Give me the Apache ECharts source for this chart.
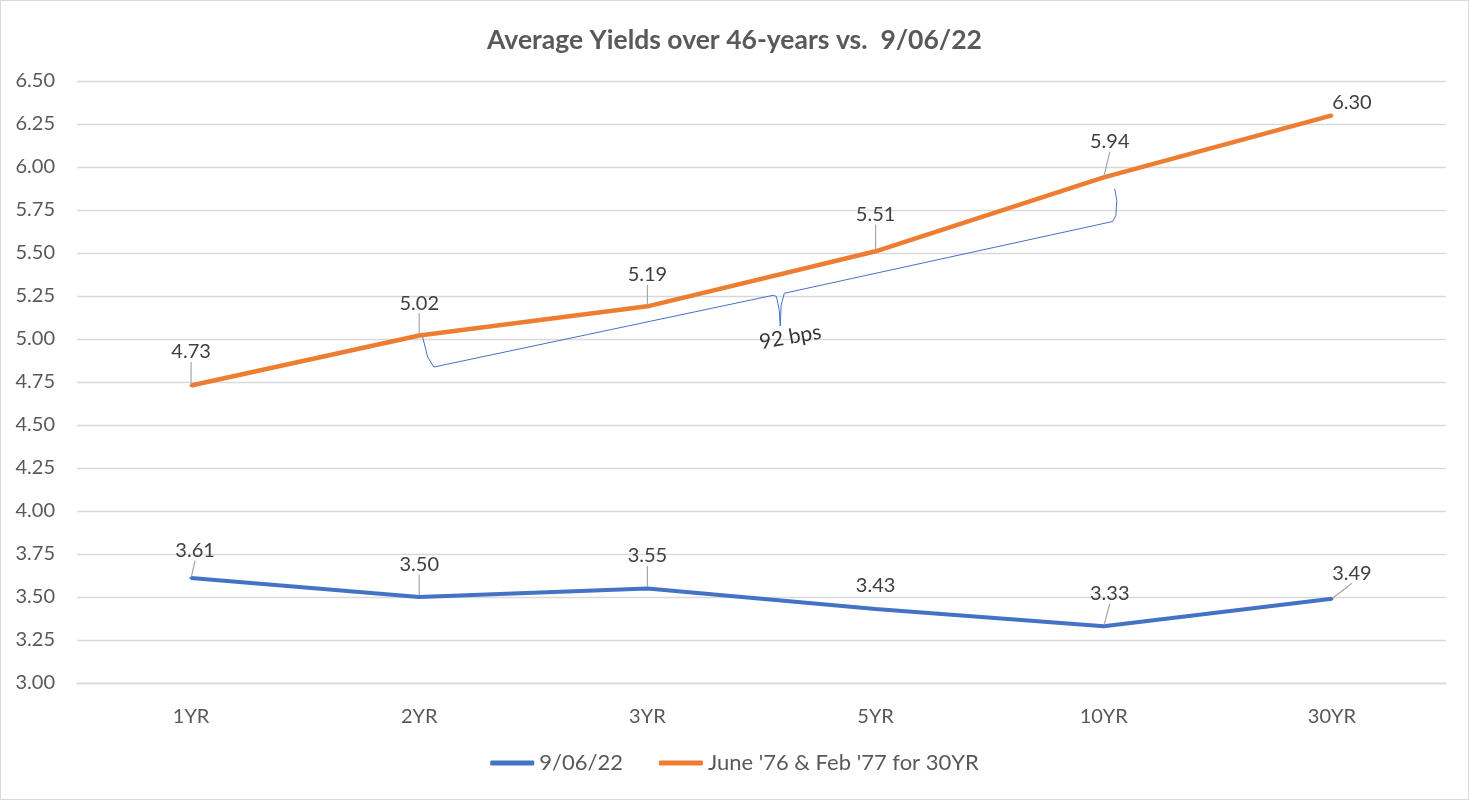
<!DOCTYPE html>
<html>
<head>
<meta charset="utf-8">
<script src="https://cdn.jsdelivr.net/npm/echarts@6/dist/echarts.min.js"></script>
<style>
  html, body { margin: 0; padding: 0; background: #fff; }
  #chart { width: 1469px; height: 800px; box-sizing: border-box; border: 1px solid #d9d9d9; }
</style>
</head>
<body>
<div id="chart"></div>
<script>
const categories = ['1YR', '2YR', '3YR', '5YR', '10YR', '30YR'];
const yields20220906 = [3.61, 3.50, 3.55, 3.43, 3.33, 3.49];
const yields1976 = [4.73, 5.02, 5.19, 5.51, 5.94, 6.30];
const seriesNames = ['9/06/22', "June '76 & Feb '77 for 30YR"];
const titleText = 'Average Yields over 46-years vs.  9/06/22';
// annotation brace (in axis units: category index, yield)
const bracePoints = [
  [1.015, 5.011], [1.037, 4.895], [1.064, 4.837],
  [2.551, 5.254], [2.565, 5.248], [2.578, 5.167], [2.582, 5.075],
  [2.586, 5.196], [2.600, 5.266],
  [4.039, 5.683], [4.053, 5.718], [4.057, 5.805], [4.048, 5.874]
];
const braceLabel = [[2.626, 5.011]];
const braceText = '92 bps';

const FONT = 'Lato';
const orangeOffsets = [[0, -17], [0, -16], [0, -15], [0, -20], [6, -19], [20, 4]];
const blueOffsets = [[4, -11], [0, -16], [0, -16], [0, 0], [6, -16], [20, -9]];

const blueData = yields20220906.map((v, i) =>
  i === 3 ? { value: v, label: { distance: 12 }, labelLine: { show: false } } : v);
const orangeData = yields1976.map((v, i) =>
  i === 5 ? { value: v, labelLine: { show: false } } : v);

const valOf = p => (typeof p.value === 'number' ? p.value : p.data.value).toFixed(2);

const chart = echarts.init(document.getElementById('chart'));
chart.setOption({
  animation: false,
  textStyle: { fontFamily: FONT },
  title: {
    text: titleText,
    left: 'center',
    top: 21,
    textStyle: { fontFamily: FONT, fontSize: 26.5, fontWeight: 'bold', color: '#595959' }
  },
  grid: { left: 76, right: 22, top: 80, bottom: 116, containLabel: false },
  legend: {
    data: seriesNames,
    bottom: 20,
    left: 'center',
    icon: 'roundRect',
    itemWidth: 44,
    itemHeight: 5,
    itemGap: 36,
    textStyle: { fontFamily: FONT, fontSize: 22, color: '#595959' }
  },
  xAxis: [
    {
      type: 'category',
      data: categories,
      boundaryGap: true,
      axisLine: { lineStyle: { color: '#d9d9d9', width: 1.3 } },
      axisTick: { show: false },
      axisLabel: { fontFamily: FONT, fontSize: 20, color: '#595959', margin: 24 }
    },
    { type: 'value', min: -0.5, max: 5.5, show: false }
  ],
  yAxis: {
    type: 'value',
    min: 3,
    max: 6.5,
    interval: 0.25,
    axisLine: { show: false },
    axisTick: { show: false },
    axisLabel: {
      fontFamily: FONT, fontSize: 20, color: '#595959', margin: 22,
      formatter: v => v.toFixed(2)
    },
    splitLine: { lineStyle: { color: '#d9d9d9', width: 1.3 } }
  },
  series: [
    {
      name: seriesNames[0],
      type: 'line',
      data: blueData,
      symbol: 'circle',
      symbolSize: 3,
      showSymbol: true,
      lineStyle: { color: '#4472C4', width: 4 },
      itemStyle: { color: '#4472C4' },
      label: {
        show: true, position: 'top', distance: 5,
        fontFamily: FONT, fontSize: 20, color: '#404040',
        formatter: valOf
      },
      labelLine: { show: true, lineStyle: { color: '#a6a6a6', width: 1.2 } },
      labelLayout: p => ({ dx: blueOffsets[p.dataIndex][0], dy: blueOffsets[p.dataIndex][1] }),
      z: 3
    },
    {
      name: seriesNames[1],
      type: 'line',
      data: orangeData,
      symbol: 'circle',
      symbolSize: 3,
      showSymbol: true,
      lineStyle: { color: '#ED7D31', width: 4.5 },
      itemStyle: { color: '#ED7D31' },
      label: {
        show: true, position: 'top', distance: 5,
        fontFamily: FONT, fontSize: 20, color: '#404040',
        formatter: valOf
      },
      labelLine: { show: true, lineStyle: { color: '#a6a6a6', width: 1.2 } },
      labelLayout: p => ({ dx: orangeOffsets[p.dataIndex][0], dy: orangeOffsets[p.dataIndex][1] }),
      z: 3
    },
    {
      name: 'brace',
      type: 'line',
      xAxisIndex: 1,
      data: bracePoints,
      symbol: 'none',
      silent: true,
      lineStyle: { color: '#4472C4', width: 1 },
      z: 2
    },
    {
      name: 'braceLabel',
      type: 'scatter',
      xAxisIndex: 1,
      data: braceLabel,
      symbolSize: 0,
      silent: true,
      label: {
        show: true, position: 'inside', rotate: 10,
        formatter: braceText,
        fontFamily: FONT, fontSize: 21, color: '#000000'
      }
    }
  ]
});
</script>
</body>
</html>
